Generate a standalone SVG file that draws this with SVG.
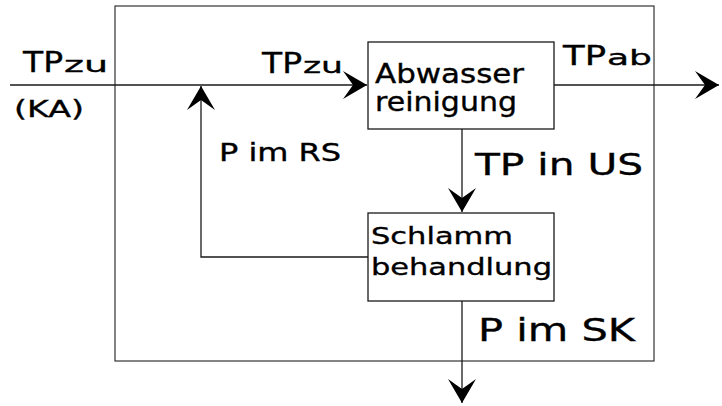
<svg xmlns="http://www.w3.org/2000/svg" width="722" height="406" viewBox="0 0 722 406">
<style>
.box{fill:none;stroke:#1a1a1a;stroke-width:1.3}
.frame{fill:none;stroke:#333;stroke-width:1.2}
.ln{fill:none;stroke:#1a1a1a;stroke-width:1.3}
text{font-family:"DejaVu Sans","Verdana",sans-serif;fill:#000;stroke:#000;stroke-width:0.35}
</style>
<defs>
<marker id="ah" markerUnits="userSpaceOnUse" markerWidth="30" markerHeight="34" viewBox="-26 -17 28 34" refX="0" refY="0" orient="auto">
<path d="M0,0 L-24,-14 L-14,0 L-24,14 Z" fill="#000"/>
</marker>
</defs>
<rect width="722" height="406" fill="#fff"/>
<g id="system">
<rect class="frame" x="115" y="6" width="539" height="355"/>
</g>
<g id="connectors">
<path class="ln" d="M10,85 H367" marker-end="url(#ah)"/>
<path class="ln" d="M554,85 H719" marker-end="url(#ah)"/>
<path class="ln" d="M462,129 V212" marker-end="url(#ah)"/>
<path class="ln" d="M462,301 V403" marker-end="url(#ah)"/>
<path class="ln" d="M368,257 H201 V86" marker-end="url(#ah)"/>
</g>
<g id="abwasser">
<rect class="box" x="368" y="42" width="186" height="87"/>
<text x="375" y="83" style="font-size:26px" textLength="149" lengthAdjust="spacingAndGlyphs">Abwasser</text>
<text x="375" y="111" style="font-size:26px" textLength="142" lengthAdjust="spacingAndGlyphs">reinigung</text>
</g>
<g id="schlamm">
<rect class="box" x="368" y="213" width="186" height="88"/>
<text x="371" y="244" style="font-size:23px" textLength="142" lengthAdjust="spacingAndGlyphs">Schlamm</text>
<text x="371" y="275" style="font-size:23px" textLength="181" lengthAdjust="spacingAndGlyphs">behandlung</text>
</g>
<g id="labels">
<text x="23" y="72" style="font-size:29px" textLength="40" lengthAdjust="spacingAndGlyphs">TP</text>
<text x="64" y="72" style="font-size:22px" textLength="44" lengthAdjust="spacingAndGlyphs">zu</text>
<text x="14" y="117" style="font-size:23px" textLength="70" lengthAdjust="spacingAndGlyphs">(KA)</text>
<text x="262" y="73" style="font-size:29px" textLength="40" lengthAdjust="spacingAndGlyphs">TP</text>
<text x="303" y="73" style="font-size:22px" textLength="40" lengthAdjust="spacingAndGlyphs">zu</text>
<text x="563" y="65" style="font-size:27px" textLength="43" lengthAdjust="spacingAndGlyphs">TP</text>
<text x="607" y="65" style="font-size:22px" textLength="45" lengthAdjust="spacingAndGlyphs">ab</text>
<text x="219" y="161" style="font-size:24px" textLength="122" lengthAdjust="spacingAndGlyphs">P im RS</text>
<text x="475" y="175" style="font-size:31px" textLength="168" lengthAdjust="spacingAndGlyphs">TP in US</text>
<text x="478" y="341" style="font-size:32px" textLength="157" lengthAdjust="spacingAndGlyphs">P im SK</text>
</g>
</svg>
